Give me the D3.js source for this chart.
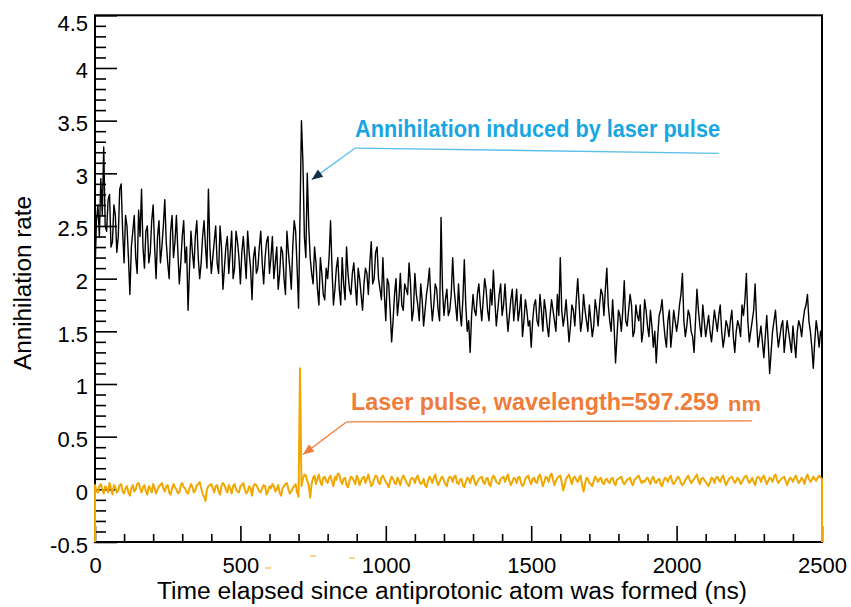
<!DOCTYPE html>
<html>
<head>
<meta charset="utf-8">
<script src="https://cdn.jsdelivr.net/npm/d3@7"></script>
<style>
  html, body { margin: 0; padding: 0; background: #ffffff; }
  svg { display: block; }
  text { font-family: "Liberation Sans", Arial, Helvetica, sans-serif; }
</style>
</head>
<body>
<svg id="chart" width="851" height="607"></svg>
<script>
// ---------------- data ----------------
const binWidth = 5; // ns per sample
const xDomain = [0, 2500];
const yDomain = [-0.5, 4.5];

const annihilationRate = [
  2.05, 2.55, 2.7, 2.4, 2.95, 2.6, 3.25, 2.5, 2.45, 2.75, 2.8, 2.3, 2.35, 2.7, 2.6, 2.25, 2.4, 2.85, 2.9, 2.45, 2.15,
  2.6, 2.5, 2.2, 1.85, 2.3, 2.45, 2.6, 2.2, 2.05, 2.65, 2.4, 2.85, 2.3, 2.1, 2.45, 2.5, 2.15, 2.25, 2.55, 2.7,
  2.3, 2.0, 2.4, 2.55, 2.15, 2.3, 2.5, 2.75, 2.35, 2.15, 2.0, 2.45, 2.6, 2.2, 2.35, 2.6, 2.25, 1.95, 2.15, 2.4,
  2.55, 2.15, 2.3, 1.7, 2.1, 2.45, 2.25, 2.1, 2.4, 2.55, 2.2, 2.0, 2.15, 2.4, 2.55, 2.3, 2.1, 2.85, 2.3, 2.05,
  2.2, 2.35, 2.5, 2.15, 2.05, 2.5, 2.3, 1.9, 2.1, 2.3, 2.4, 2.05, 2.25, 2.45, 2.0, 2.1, 2.45, 2.35, 2.2, 1.95,
  2.25, 2.4, 2.2, 2.0, 2.45, 2.25, 2.1, 1.8, 2.2, 2.3, 2.05, 2.1, 2.3, 2.45, 2.15, 1.95, 2.2, 2.35, 2.4, 2.05,
  2.2, 2.4, 2.0, 2.15, 2.3, 1.9, 2.05, 2.3, 2.25, 2.0, 1.85, 2.45, 2.25, 2.1, 1.9, 2.3, 2.55, 2.45, 2.1, 1.72,
  2.6, 3.5, 3.1, 2.4, 2.2, 3.0, 2.5, 2.2, 2.05, 1.95, 2.3, 2.15, 1.9, 1.75, 2.2, 2.05, 1.85, 1.8, 2.1, 2.0,
  2.2, 2.55, 2.1, 1.75, 1.9, 2.1, 2.2, 1.9, 1.75, 2.2, 1.95, 1.8, 2.3, 2.05, 1.9, 1.85, 2.05, 2.15, 1.95, 1.75,
  2.1, 2.0, 1.85, 1.7, 1.95, 2.1, 2.05, 1.85, 2.15, 2.35, 1.95, 2.0, 2.25, 2.3, 2.0, 1.9, 1.8, 2.2, 1.85, 1.6,
  2.0, 1.95, 1.7, 1.4, 1.6, 1.85, 2.0, 1.65, 1.8, 2.05, 1.75, 1.7, 1.95, 1.9, 1.85, 2.15, 1.95, 1.6, 1.7, 2.05,
  1.85, 1.75, 1.6, 1.95, 1.8, 1.55, 1.7, 1.85, 1.95, 2.1, 1.8, 1.6, 1.75, 1.95, 1.9, 1.7, 1.6, 2.58, 1.9, 1.65,
  1.8, 1.9, 1.65, 1.7, 1.85, 2.2, 1.9, 1.75, 1.6, 1.95, 1.7, 1.55, 1.8, 2.18, 1.75, 1.5, 1.6, 1.3, 1.65, 1.85,
  1.7, 1.65, 1.85, 1.95, 1.75, 1.6, 1.8, 2.0, 1.9, 1.7, 1.6, 1.9, 1.75, 2.08, 1.8, 1.55, 1.7, 1.85, 1.95, 1.65,
  1.75, 1.95, 1.7, 1.5, 1.65, 1.8, 1.9, 1.6, 1.75, 1.9, 1.6, 1.7, 1.85, 1.45, 1.6, 1.8, 1.7, 1.55, 1.6, 1.35,
  1.6, 1.75, 1.8, 1.6, 1.55, 1.85, 1.7, 1.5, 1.8, 1.7, 1.55, 1.45, 1.65, 1.8, 1.7, 1.6, 1.5, 1.85, 1.65, 2.2,
  1.7, 1.55, 1.65, 1.8, 1.6, 1.4, 1.55, 1.75, 1.7, 1.55, 1.8, 2.0, 1.75, 1.5, 1.6, 1.85, 1.7, 1.6, 1.5, 1.75,
  1.6, 1.45, 1.55, 1.8, 1.7, 1.55, 1.75, 1.9, 1.85, 1.65, 1.9, 2.1, 1.75, 1.6, 1.5, 1.8, 1.55, 1.2, 1.45, 1.7,
  1.65, 1.5, 1.7, 1.98, 1.6, 1.55, 1.7, 1.85, 1.75, 1.45, 1.5, 1.75, 1.65, 1.6, 1.75, 1.4, 1.5, 1.8, 1.7, 1.55,
  1.45, 1.7, 1.55, 1.35, 1.5, 1.2, 1.45, 1.65, 1.7, 1.8, 1.6, 1.45, 1.35, 1.6, 1.7, 1.35, 1.5, 1.7, 1.6, 1.5,
  1.6, 1.75, 1.85, 2.05, 1.6, 1.45, 1.55, 1.7, 1.65, 1.5, 1.45, 1.3, 1.6, 1.9, 1.7, 1.55, 1.45, 1.75, 1.6, 1.45,
  1.55, 1.65, 1.5, 1.4, 1.55, 1.7, 1.6, 1.5, 1.65, 1.75, 1.5, 1.35, 1.45, 1.6, 1.55, 1.45, 1.6, 1.7, 1.45, 1.3,
  1.5, 1.6, 1.55, 1.45, 1.75, 1.65, 1.8, 2.05, 1.6, 1.4, 1.5, 1.6, 1.7, 1.95, 1.6, 1.35, 1.45, 1.55, 1.4, 1.25,
  1.45, 1.65, 1.4, 1.1, 1.3, 1.5, 1.6, 1.7, 1.5, 1.35, 1.45, 1.55, 1.6, 1.3, 1.45, 1.6, 1.5, 1.4, 1.3, 1.55,
  1.4, 1.25, 1.5, 1.6, 1.55, 1.45, 1.6, 1.7, 1.75, 1.85, 1.6, 1.5, 1.35, 1.15, 1.4, 1.6, 1.5, 1.35, 1.5, 1.45
];

const laserPulse = [
  0.04, -0.02, -0.03, 0.03, 0.05, 0.0, -0.04, 0.03, 0.01, -0.03, 0.06, 0.01, -0.05, 0.04, 0.02, -0.03, -0.01, 0.04, 0.05, -0.02, -0.04,
  0.01, 0.03, -0.03, -0.06, 0.01, 0.04, -0.02, 0.0, 0.05, 0.06, 0.01, -0.03, 0.02, 0.04, -0.02, -0.05, 0.03, 0.01, -0.03, 0.05,
  0.01, -0.04, 0.0, 0.03, 0.04, 0.06, 0.01, -0.02, 0.03, 0.04, -0.03, -0.05, 0.01, 0.05, 0.02, 0.0, -0.04, -0.03, 0.04, 0.06,
  0.02, 0.01, -0.03, -0.04, 0.01, 0.05, 0.02, -0.03, -0.01, 0.04, 0.05, 0.07, 0.01, -0.04, -0.07, -0.11, 0.0, 0.03, 0.04, 0.05,
  0.01, -0.03, 0.03, 0.04, -0.02, -0.05, 0.03, 0.06, 0.04, 0.0, -0.03, 0.04, 0.01, -0.04, 0.03, 0.05, 0.0, -0.02, -0.03, 0.03,
  0.04, 0.06, 0.0, -0.04, -0.02, 0.03, 0.01, -0.06, 0.03, 0.05, 0.04, 0.01, -0.02, -0.03, 0.01, 0.04, 0.03, -0.05, -0.02, 0.03,
  0.01, 0.05, 0.03, -0.02, 0.0, 0.04, -0.03, -0.06, 0.01, 0.03, 0.05, 0.06, 0.0, -0.04, -0.02, 0.01, 0.03, 0.05, -0.03, -0.07,
  1.15, 0.03, 0.1, 0.14, 0.13, 0.08, 0.04, -0.08, 0.05, 0.11, 0.13, 0.05, 0.1, 0.14, 0.07, 0.04, 0.11, 0.12, 0.08, 0.06,
  0.11, 0.13, 0.07, 0.03, 0.12, 0.09, 0.15, 0.14, 0.08, 0.05, 0.1, 0.11, 0.04, 0.02, 0.08, 0.12, 0.11, 0.08, 0.05, 0.13,
  0.1, 0.04, 0.08, 0.11, 0.12, 0.06, 0.1, 0.14, 0.08, 0.03, 0.05, 0.1, 0.13, 0.12, 0.06, 0.05, 0.11, 0.13, 0.1, 0.07,
  0.05, 0.02, 0.08, 0.12, 0.1, 0.06, 0.05, 0.11, 0.08, 0.04, 0.1, 0.13, 0.11, 0.07, 0.05, 0.03, 0.09, 0.11, 0.1, 0.06,
  0.11, 0.13, 0.08, 0.05, 0.06, 0.1, 0.04, 0.02, 0.08, 0.12, 0.1, 0.06, 0.11, 0.14, 0.08, 0.04, 0.07, 0.11, 0.12, 0.08,
  0.05, 0.03, 0.1, 0.12, 0.11, 0.07, 0.12, 0.13, 0.06, 0.05, 0.09, 0.1, 0.04, 0.02, 0.07, 0.11, 0.1, 0.06, 0.11, 0.13,
  0.08, 0.04, 0.07, 0.1, 0.11, 0.12, 0.07, 0.05, 0.1, 0.11, 0.05, 0.03, 0.1, 0.13, 0.11, 0.07, 0.06, 0.05, 0.1, 0.11,
  0.12, 0.07, 0.11, 0.14, 0.08, 0.04, 0.07, 0.11, 0.1, 0.06, 0.11, 0.12, 0.06, 0.03, 0.05, 0.1, 0.12, 0.13, 0.08, 0.05,
  0.1, 0.11, 0.07, 0.06, 0.12, 0.14, 0.09, 0.03, 0.07, 0.12, 0.11, 0.07, 0.13, 0.15, 0.09, 0.04, 0.08, 0.11, 0.12, 0.13,
  0.07, -0.01, 0.04, 0.1, 0.12, 0.14, 0.09, 0.05, 0.11, 0.12, 0.09, 0.07, 0.11, 0.13, 0.04, -0.02, 0.05, 0.11, 0.1, 0.06,
  0.05, 0.03, 0.08, 0.12, 0.1, 0.07, 0.1, 0.11, 0.06, 0.05, 0.09, 0.1, 0.07, 0.06, 0.1, 0.11, 0.06, 0.04, 0.09, 0.1,
  0.11, 0.12, 0.07, 0.05, 0.07, 0.09, 0.1, 0.11, 0.06, 0.04, 0.09, 0.1, 0.12, 0.13, 0.09, 0.06, 0.08, 0.07, 0.1, 0.11,
  0.08, 0.05, 0.1, 0.12, 0.07, 0.06, 0.09, 0.1, 0.05, 0.03, 0.08, 0.11, 0.1, 0.07, 0.11, 0.13, 0.07, 0.05, 0.07, 0.1,
  0.12, 0.1, 0.06, 0.04, 0.06, 0.09, 0.11, 0.13, 0.09, 0.06, 0.08, 0.1, 0.12, 0.14, 0.08, 0.05, 0.1, 0.11, 0.09, 0.07,
  0.05, 0.03, 0.07, 0.11, 0.1, 0.06, 0.11, 0.12, 0.09, 0.07, 0.11, 0.13, 0.08, 0.04, 0.07, 0.1, 0.11, 0.12, 0.09, 0.06,
  0.08, 0.11, 0.09, 0.05, 0.07, 0.1, 0.12, 0.13, 0.09, 0.06, 0.08, 0.11, 0.07, 0.04, 0.1, 0.12, 0.11, 0.07, 0.11, 0.13,
  0.09, 0.05, 0.08, 0.11, 0.1, 0.07, 0.12, 0.14, 0.09, 0.06, 0.08, 0.1, 0.11, 0.12, 0.08, 0.04, 0.08, 0.11, 0.1, 0.07,
  0.11, 0.13, 0.09, 0.06, 0.08, 0.11, 0.09, 0.05, 0.11, 0.14, 0.1, 0.07, 0.09, 0.12, 0.1, 0.08, 0.11, 0.13, 0.11, 0.1
];

const xMajorTicks = [0, 500, 1000, 1500, 2000, 2500];
const yMajorTicks = [-0.5, 0, 0.5, 1, 1.5, 2, 2.5, 3, 3.5, 4, 4.5];
const xTitle = "Time elapsed since antiprotonic atom was formed (ns)";
const yTitle = "Annihilation rate";
const blueNote = "Annihilation induced by laser pulse";
const orangeNote = "Laser pulse, wavelength=597.259";
const orangeUnit = "nm";
// annotation anchor points in data units: [label line start, arrow tip, label line end]
const blueArrow = { from: [895, 3.24], tip: [745, 2.94], lineEnd: [2145, 3.19] };
const orangeArrow = { from: [865, 0.64], tip: [715, 0.33], lineEnd: [2260, 0.65] };

// ---------------- layout ----------------
const svg = d3.select("#chart");
const x = d3.scaleLinear().domain(xDomain).range([95, 822]);
const y = d3.scaleLinear().domain(yDomain).range([542, 15.3]);

const blackPts = annihilationRate.map((v, i) => [i * binWidth, v]);
const orangePts = laserPulse.map((v, i) => [i * binWidth, v]);
// histogram drawn down to the axis floor at both ends (as in the source)
const orangeFull = [[xDomain[0], yDomain[0]], ...orangePts, [xDomain[1], yDomain[0]]];

const line = d3.line().x(d => x(d[0])).y(d => y(d[1]));

// ---------------- frame ----------------
svg.append("rect")
  .attr("x", x(xDomain[0])).attr("y", y(yDomain[1]))
  .attr("width", x(xDomain[1]) - x(xDomain[0]))
  .attr("height", y(yDomain[0]) - y(yDomain[1]))
  .attr("fill", "none").attr("stroke", "#000").attr("stroke-width", 2);

// ---------------- axes ----------------
const xMinor = d3.range(0, 2501, 100).filter(v => v % 500 !== 0);
const yMinor = d3.range(-5, 46, 1).map(v => v / 10).filter(v => Math.abs(v * 2 - Math.round(v * 2)) > 1e-6);

const fmt = d => (d === 0 ? "0" : String(d));

const gx = svg.append("g").attr("transform", `translate(0,${y(yDomain[0])})`);
gx.call(d3.axisBottom(x).tickValues(xMajorTicks).tickSize(-16).tickPadding(15).tickFormat(fmt));
const gxm = svg.append("g").attr("transform", `translate(0,${y(yDomain[0])})`);
gxm.call(d3.axisBottom(x).tickValues(xMinor).tickSize(-8).tickFormat(""));

const gy = svg.append("g").attr("transform", `translate(${x(xDomain[0])},0)`);
gy.call(d3.axisLeft(y).tickValues(yMajorTicks).tickSize(-22).tickPadding(7).tickFormat(fmt));
const gym = svg.append("g").attr("transform", `translate(${x(xDomain[0])},0)`);
gym.call(d3.axisLeft(y).tickValues(yMinor).tickSize(-11).tickFormat(""));

[gx, gxm, gy, gym].forEach(g => {
  g.select(".domain").remove();
  g.selectAll(".tick line").attr("stroke", "#000").attr("stroke-width", 1.6);
});
gx.selectAll(".tick text")
  .attr("font-size", 22).attr("fill", "#000")
  .attr("font-family", "Liberation Sans, Arial, sans-serif")
  .attr("dy", "0.72em");
gy.selectAll(".tick text")
  .attr("font-size", 22).attr("fill", "#000")
  .attr("font-family", "Liberation Sans, Arial, sans-serif")
  .attr("dy", d => (d === yDomain[1] ? "15px" : "10px"));

// axis titles
svg.append("text")
  .attr("x", 157).attr("y", 599)
  .attr("font-size", 23).attr("fill", "#000")
  .attr("textLength", 590).attr("lengthAdjust", "spacingAndGlyphs")
  .text(xTitle);

svg.append("text")
  .attr("transform", `translate(31,370) rotate(-90)`)
  .attr("font-size", 23).attr("fill", "#000")
  .attr("textLength", 174).attr("lengthAdjust", "spacingAndGlyphs")
  .text(yTitle);

// ---------------- data lines ----------------
svg.append("path")
  .datum(orangeFull)
  .attr("d", line)
  .attr("fill", "none")
  .attr("stroke", "#f0a800")
  .attr("stroke-width", 2)
  .attr("stroke-linejoin", "round");

svg.append("path")
  .datum(blackPts)
  .attr("d", line)
  .attr("fill", "none")
  .attr("stroke", "#000")
  .attr("stroke-width", 1.4)
  .attr("stroke-linejoin", "round");

// ---------------- annotations ----------------
function arrowHead(g, p0, p1, color, len, half) {
  const dx = p1[0] - p0[0], dy = p1[1] - p0[1];
  const L = Math.hypot(dx, dy), ux = dx / L, uy = dy / L;
  const bx = p1[0] - ux * len, by = p1[1] - uy * len;
  const pts = [[p1[0], p1[1]], [bx - uy * half, by + ux * half], [bx + uy * half, by - ux * half]];
  g.append("polygon").attr("points", pts.map(p => p.join(",")).join(" ")).attr("fill", color);
}

function annotate(spec, lineColor, headColor) {
  const g = svg.append("g");
  const a = [x(spec.from[0]), y(spec.from[1])];
  const t = [x(spec.tip[0]), y(spec.tip[1])];
  const e = [x(spec.lineEnd[0]), y(spec.lineEnd[1])];
  g.append("line").attr("x1", a[0]).attr("y1", a[1]).attr("x2", e[0]).attr("y2", e[1])
    .attr("stroke", lineColor).attr("stroke-width", 1.3);
  g.append("line").attr("x1", a[0]).attr("y1", a[1]).attr("x2", t[0]).attr("y2", t[1])
    .attr("stroke", lineColor).attr("stroke-width", 1.3);
  arrowHead(g, a, t, headColor, 11, 4.5);
}

annotate(blueArrow, "#5cbfea", "#10304a");
svg.append("text")
  .attr("x", 355).attr("y", 137)
  .attr("font-size", 24).attr("font-weight", "bold").attr("fill", "#17a6e2")
  .attr("textLength", 365).attr("lengthAdjust", "spacingAndGlyphs")
  .text(blueNote);

annotate(orangeArrow, "#ee7d3c", "#ee7d3c");
svg.append("text")
  .attr("x", 351).attr("y", 410)
  .attr("font-size", 24).attr("font-weight", "bold").attr("fill", "#ee7d3c")
  .attr("textLength", 368).attr("lengthAdjust", "spacingAndGlyphs")
  .text(orangeNote);
svg.append("text")
  .attr("x", 728).attr("y", 411)
  .attr("font-size", 20).attr("font-weight", "bold").attr("fill", "#ee7d3c")
  .attr("textLength", 33).attr("lengthAdjust", "spacingAndGlyphs")
  .text(orangeUnit);

// small stray marks below the axis present in the source image
const strayMarks = [[265, 568], [310, 556], [349, 558]];
svg.append("g").selectAll("line").data(strayMarks).join("line")
  .attr("x1", d => d[0]).attr("x2", d => d[0] + 6)
  .attr("y1", d => d[1]).attr("y2", d => d[1])
  .attr("stroke", "#f5c46a").attr("stroke-width", 1.5);
</script>
</body>
</html>
